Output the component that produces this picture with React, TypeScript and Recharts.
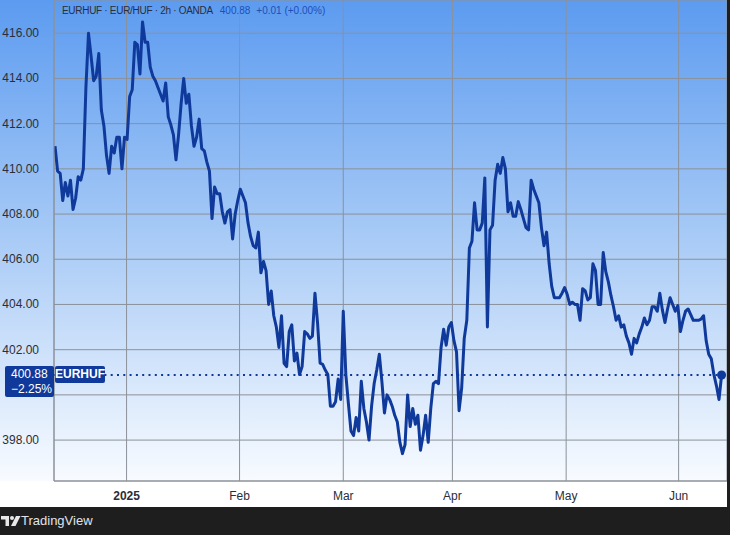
import { CartesianGrid, Line, LineChart, ReferenceLine, XAxis, YAxis } from 'recharts';

// EUR/HUF 2h closes, one sample per half trading day
const prices = [
  411.0, 409.9, 409.8, 408.6, 409.4, 408.8, 409.5, 408.2, 408.7, 409.65,
  409.5, 410.0, 413.6, 416.0, 415.0, 413.9, 414.1, 415.1, 412.6, 411.9,
  410.6, 409.8, 411.0, 410.7, 411.4, 411.4, 410.0, 411.4, 411.3, 413.2,
  413.5, 415.6, 415.5, 414.2, 416.5, 415.6, 415.6, 414.5, 414.1, 413.9,
  413.6, 413.3, 413.0, 413.8, 412.3, 411.95, 411.5, 410.4, 411.5, 412.9,
  414.0, 412.9, 413.3, 411.9, 411.0, 411.4, 412.2, 410.9, 410.8, 410.3,
  409.9, 407.8, 409.2, 408.9, 408.9, 408.1, 407.6, 408.1, 408.2, 406.9,
  408.0, 408.6, 409.1, 408.8, 408.5, 407.6, 407.0, 406.6, 406.5, 407.2,
  405.4, 405.9, 405.5, 404.0, 404.6, 403.5, 403.0, 402.1, 403.5, 401.4,
  401.25, 402.8, 403.1, 401.5, 401.85, 400.9, 401.25, 402.8, 402.7, 402.5,
  402.6, 404.5, 403.2, 401.4, 401.35, 401.1, 400.9, 399.5, 399.5, 399.7,
  400.7, 399.8, 403.7, 400.9, 399.6, 398.4, 398.2, 399.0, 398.4, 400.6,
  399.4, 398.8, 398.0, 399.5, 400.5, 401.1, 401.8, 400.6, 399.2, 400.0,
  399.8, 399.5, 399.1, 398.8, 397.9, 397.4, 397.8, 400.0, 398.6, 399.4,
  398.7, 399.1, 397.55, 398.2, 399.1, 397.9, 399.4, 400.5, 400.6, 400.5,
  402.1, 402.9, 402.2, 403.0, 403.2, 402.4, 401.9, 399.3, 400.3, 402.5,
  403.3, 406.5, 406.8, 408.5, 407.3, 407.3, 407.6, 409.6, 403.0, 407.3,
  407.5, 409.5, 410.2, 409.8, 410.5, 410.0, 408.1, 408.5, 407.9, 407.9,
  408.55, 408.2, 407.8, 407.4, 407.3, 409.5, 409.1, 408.8, 408.5, 407.4,
  406.6, 407.2, 405.8, 404.8, 404.3, 404.3, 404.3, 404.5, 404.75, 404.45,
  404.0, 404.1, 404.0, 404.0, 403.3, 404.7, 404.6, 404.2, 404.3, 405.8,
  405.5, 404.0, 404.0, 406.3, 405.45, 405.0, 404.4, 403.9, 403.3, 403.5,
  403.0, 403.1, 402.6, 402.3, 401.8, 402.5, 402.3, 402.7, 403.0, 403.4,
  403.1, 403.3, 403.9, 403.9, 403.7, 404.5, 403.75, 403.2, 403.8, 404.3,
  404.0, 403.7, 403.95, 402.8, 403.3, 403.7, 403.8, 403.55, 403.3, 403.3,
  403.3, 403.35, 403.5, 402.4, 401.8, 401.6, 400.9, 400.4, 399.8, 400.88,
];

// month starts, expressed in the same sample index as prices
const monthTickAt = [27.8, 71.7, 112.0, 154.4, 198.6, 242.3];
const monthLabels = ['2025', 'Feb', 'Mar', 'Apr', 'May', 'Jun'];
const priceTicks = [398, 400, 402, 404, 406, 408, 410, 412, 414, 416];

const symbol = 'EURHUF';
const title = 'EURHUF · EUR/HUF · 2h · OANDA';
const lastPrice = 400.88;
const lastChange = '+0.01 (+0.00%)';
const rangeChange = '−2.25%';

const LINE = '#0f3a9c';
const TEXT = '#2a2e39';
const FONT = '"Liberation Sans", Arial, sans-serif';

const data = prices.map((p, i) => ({ i, p }));

function PriceTick({ x, y, payload }: any) {
  // the 400.00 label sits under the last-price badge
  if (Math.abs(payload.value - lastPrice) < 1) return <g />;
  return (
    <text x={x - 7} y={y} dy={4} textAnchor="end" fontSize={12} fill={TEXT} fontFamily={FONT}>
      {payload.value.toFixed(2)}
    </text>
  );
}

function MonthTick({ x, y, payload }: any) {
  const idx = monthTickAt.indexOf(payload.value);
  const label = monthLabels[idx] ?? '';
  return (
    <text
      x={x}
      y={y + 11}
      textAnchor="middle"
      fontSize={12}
      fill={TEXT}
      fontFamily={FONT}
      fontWeight={label === '2025' ? 700 : 400}
    >
      {label}
    </text>
  );
}

function LastDot(props: any) {
  const { cx, cy, index } = props;
  if (index !== prices.length - 1) return <g key={`d${index}`} />;
  return <circle key="last" cx={cx} cy={cy} r={4.5} fill={LINE} />;
}

export default function App() {
  return (
    <div
      style={{
        position: 'absolute',
        left: 0,
        top: 0,
        width: 730,
        height: 535,
        background: '#1e1e1e',
        fontFamily: FONT,
        overflow: 'hidden',
      }}
    >
      <div style={{ position: 'absolute', left: 0, top: 0, width: 727, height: 507, background: '#ffffff' }}>
        <div
          style={{
            position: 'absolute',
            left: 0,
            top: 0,
            width: 727,
            height: 481,
            background: 'linear-gradient(180deg, #5c9bf0 0%, #a9cbf6 50%, #f8fbff 100%)',
          }}
        />
        <div style={{ position: 'absolute', left: 0, top: 0 }}>
          <LineChart width={727} height={507} data={data} margin={{ top: 0, right: 0, left: 0, bottom: 0 }}>
            <CartesianGrid stroke="#8c9199" strokeWidth={1} />
            <XAxis
              type="number"
              dataKey="i"
              domain={[-0.4, 261.1]}
              ticks={monthTickAt}
              interval={0}
              height={26}
              axisLine={{ stroke: '#8c9199' }}
              tickLine={false}
              tick={<MonthTick />}
              allowDataOverflow
            />
            <YAxis
              type="number"
              domain={[396.19, 417.47]}
              ticks={priceTicks}
              interval={0}
              width={54}
              axisLine={{ stroke: '#8c9199' }}
              tickLine={false}
              tick={<PriceTick />}
              allowDataOverflow
            />
            <ReferenceLine y={lastPrice} stroke={LINE} strokeWidth={2} strokeDasharray="2 4.3" />
            <Line
              type="linear"
              dataKey="p"
              stroke={LINE}
              strokeWidth={3}
              strokeLinejoin="round"
              dot={<LastDot />}
              activeDot={false}
              isAnimationActive={false}
            />
          </LineChart>
        </div>
      </div>

      {/* legend */}
      <div
        style={{
          position: 'absolute',
          left: 62,
          top: 5,
          fontSize: 10,
          letterSpacing: -0.3,
          whiteSpace: 'nowrap',
          color: TEXT,
        }}
      >
        {title}
        <span style={{ color: '#1d4fb8', marginLeft: 7, letterSpacing: 0 }}>{lastPrice.toFixed(2)}</span>
        <span style={{ color: '#1d4fb8', marginLeft: 6, letterSpacing: 0 }}>{lastChange}</span>
      </div>

      {/* price label on axis */}
      <div
        style={{
          position: 'absolute',
          left: 5,
          top: 366,
          width: 49,
          height: 31,
          background: LINE,
          borderRadius: 2,
          color: '#fff',
          fontSize: 12,
          lineHeight: '15px',
          paddingLeft: 6,
          boxSizing: 'border-box',
          paddingTop: 1,
        }}
      >
        <div>{lastPrice.toFixed(2)}</div>
        <div>{rangeChange}</div>
      </div>
      <div
        style={{
          position: 'absolute',
          left: 55,
          top: 366,
          width: 50,
          height: 17,
          background: LINE,
          borderRadius: 2,
          color: '#fff',
          fontSize: 12,
          fontWeight: 700,
          lineHeight: '17px',
          textAlign: 'center',
        }}
      >
        {symbol}
      </div>

      {/* footer */}
      <svg style={{ position: 'absolute', left: 1, top: 516 }} width={20} height={11}>
        <path d="M0 0 H8 V10 H4.5 V3.5 H0 Z" fill="#e8e8e8" />
        <circle cx={11} cy={2} r={2} fill="#e8e8e8" />
        <path d="M15 0 H19.5 L14.5 10 H10 Z" fill="#e8e8e8" />
      </svg>
      <div style={{ position: 'absolute', left: 21, top: 513, fontSize: 13, color: '#e0e3eb' }}>TradingView</div>
    </div>
  );
}
